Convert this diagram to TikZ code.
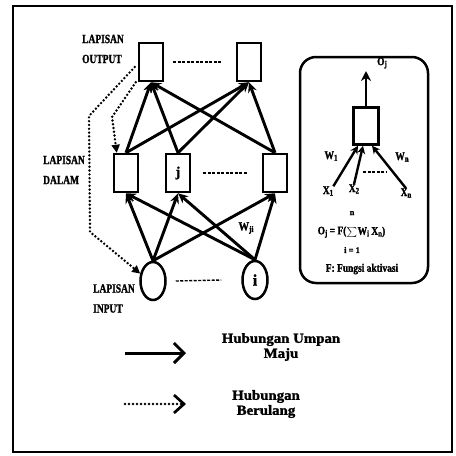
\documentclass[tikz,border=0pt]{standalone}
\usepackage{fontspec}
\setmainfont{Liberation Serif}
\newfontfamily\heavy[FakeBold=1.5]{Liberation Serif}
\newcommand\lowsub[1]{\raisebox{-1.5pt}{\fontsize{8.5}{8.5}\selectfont #1}}
\usetikzlibrary{arrows.meta,shapes.geometric}
\begin{document}
\begin{tikzpicture}[x=1pt,y=-1pt,
  unit/.style={draw, line width=2.5pt, minimum width=24pt, minimum height=38pt, inner sep=0pt},
  inp/.style={draw, ellipse, line width=2.5pt, minimum width=25pt, minimum height=38pt, inner sep=0pt},
  conn/.style={line width=2.9pt, -{Stealth[length=10pt,width=9pt]}},
  conn2/.style={line width=2.4pt, -{Stealth[length=8pt,width=8pt]}},
  rec/.style={line width=2.7pt, line cap=round, dash pattern=on 0pt off 3.8pt, -{Triangle[length=8pt,width=8pt]}},
  gap/.style={line width=1.4pt, dash pattern=on 3pt off 1.5pt},
  lbl/.style={font=\fontsize{12.5}{20}\selectfont\heavy\bfseries, xscale=0.76, align=left, inner sep=0pt, anchor=west},
  sml/.style={font=\fontsize{11.5}{11.5}\selectfont\heavy\bfseries, inner sep=0pt, xscale=0.82},
  leg/.style={font=\fontsize{14}{15}\selectfont\heavy\bfseries, xscale=1.06, align=center, inner sep=0pt}
]
\useasboundingbox (0,0) rectangle (456,456);
\fill[white] (0,0) rectangle (456,456);
\draw[line width=2pt] (13,6) rectangle (452,452);

% network nodes
\node[unit] (o1) at (151,62) {};
\node[unit] (o2) at (249,62) {};
\node[unit] (h1) at (126,173) {};
\node[unit, font=\fontsize{14}{14}\selectfont\heavy\bfseries] (hj) at (178,173) {j};
\node[unit] (h3) at (275,173) {};
\node[inp] (i1) at (153,281) {};
\node[inp, font=\fontsize{16}{16}\selectfont\heavy\bfseries] (ii) at (255,280) {i};

% feed-forward connections
\foreach \a in {i1,ii}{\foreach \b in {h1,hj,h3}{\draw[conn] (\a.north) -- (\b.south);}}
\foreach \a in {h1,hj,h3}{\foreach \b in {o1,o2}{\draw[conn] (\a.north) -- (\b.south);}}

% dashes between nodes
\draw[gap] ([xshift=9pt]o1.east) -- ([xshift=-14pt]o2.west);
\draw[gap] ([xshift=12pt]hj.east) -- ([xshift=-15pt]h3.west);
\draw[gap] ([xshift=9pt]i1.east) -- ([xshift=-20pt]ii.west);

% recurrent connections
\coordinate (ra) at (89,116);
\coordinate (rb) at (90,232);
\coordinate (rc) at (112,117);
\draw[rec] ([xshift=-3pt,yshift=-5pt]o1.west) -- (ra) -- (rb) -- (i1.150);
\draw[rec] ([xshift=-2pt]o1.south west) -- (rc) -- ([xshift=4pt]h1.north west);

% weight label
\node[font=\fontsize{12.5}{12.5}\selectfont\heavy\bfseries, inner sep=0pt, xscale=0.85] (wji) at (246,228) {W\lowsub{ji}};

% layer labels
\node[lbl] (lo) at (82,49) {LAPISAN\\OUTPUT};
\node[lbl] (ld) at (43,170) {LAPISAN\\DALAM};
\node[lbl] (li) at (93,298.5) {LAPISAN\\INPUT};

% right panel
\node[draw, rounded corners=16pt, line width=2.5pt, minimum width=128pt, minimum height=226pt] (panel) at (364,170) {};
\node[unit, minimum width=25pt, minimum height=37pt] (nr) at (366,126) {};
\coordinate (oj) at (366,71);
\draw[line width=2.5pt, -{Stealth[length=10pt,width=10pt]}] (nr.north) -- (oj);
\node[sml] (ojl) at (382,63) {O\lowsub{j}};
\node[sml] (x1) at (328,191) {X\lowsub{1}};
\node[sml] (x2) at (354,189) {X\lowsub{2}};
\node[sml] (xn) at (406,193) {X\lowsub{n}};
\draw[conn2] (x1.north east) -- ([xshift=-8pt]nr.south);
\draw[conn2] (x2.north) -- ([xshift=-3pt]nr.south);
\draw[conn2] (xn.north) -- ([xshift=6pt]nr.south);
\node[sml] (w1) at (331,156) {W\lowsub{1}};
\node[sml] (wn) at (402,157) {W\lowsub{n}};
\draw[gap] (363,172) -- (387,172);
\node[font=\fontsize{13}{13}\selectfont, inner sep=0pt] (sig) at (352,232) {$\sum$};
\node[sml, anchor=east] (fl) at (sig.west) {O\lowsub{j} = F(};
\node[sml, anchor=west] (fr) at (sig.east) {W\lowsub{i} X\lowsub{n})};
\node[font=\fontsize{8.5}{8.5}\selectfont\heavy\bfseries, inner sep=0pt] (nup) at (352,213) {n};
\node[font=\fontsize{8.5}{8.5}\selectfont\heavy\bfseries, inner sep=0pt] (ilo) at (352,250) {i = 1};
\node[sml] (fa) at (362,269) {F: Fungsi aktivasi};

% legend
\coordinate (la1) at (125,353);
\coordinate (la2) at (186,353);
\coordinate (lb1) at (125,404);
\coordinate (lb2) at (186,404);
\draw[line width=3pt, -{Straight Barb[length=10pt,width=20pt]}] (la1) -- (la2);
\draw[line width=2.7pt, line cap=round, dash pattern=on 0pt off 4pt, -{Straight Barb[length=10pt,width=18pt]}] (lb1) -- (lb2);
\node[leg] (t1) at (281,347) {Hubungan Umpan\\Maju};
\node[leg] (t2) at (266,404) {Hubungan\\Berulang};
\end{tikzpicture}
\end{document}
